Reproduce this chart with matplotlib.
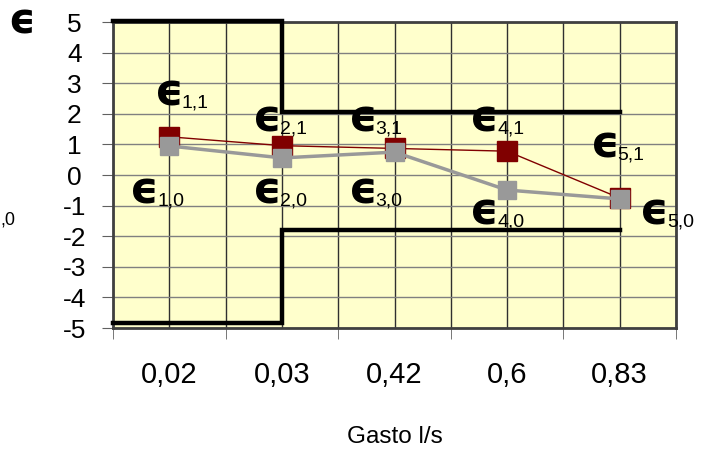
import numpy as np
import matplotlib
matplotlib.use('Agg')
import matplotlib.pyplot as plt

plt.rcParams['font.family'] = ['Liberation Sans', 'DejaVu Sans']

# Data
categories = ['0,02', '0,03', '0,42', '0,6', '0,83']
eps_1 = [1.25, 0.96, 0.87, 0.78, -0.75]
eps_0 = [0.95, 0.56, 0.75, -0.49, -0.78]

# Limit lines (step shape)
upper_x = [-0.5, 1, 1, 4]
upper_y = [5.05, 5.05, 2.05, 2.05]
lower_x = [-0.5, 1, 1, 4]
lower_y = [-4.85, -4.85, -1.8, -1.8]

# Point labels: (x index, y, subscript)
labels = [
    (0.0, 2.68, '1,1'), (0.87, 1.83, '2,1'), (1.72, 1.83, '3,1'),
    (2.80, 1.83, '4,1'), (3.87, 0.98, '5,1'),
    (-0.22, -0.52, '1,0'), (0.87, -0.52, '2,0'), (1.72, -0.52, '3,0'),
    (2.80, -1.21, '4,0'), (4.31, -1.21, '5,0'),
]

fig = plt.figure(figsize=(7.07, 4.5), dpi=100)
ax = fig.add_axes([0.160, 0.271, 0.796, 0.680])
ax.set_facecolor('#FFFFCC')

x = np.arange(len(categories))
ax.set_xlim(-0.5, len(categories) - 0.5)
ax.set_ylim(-5, 5)

# Ticks and grid
ax.set_xticks(x)
ax.set_xticks(np.arange(-0.5, len(categories), 1.0), minor=True)
ax.set_xticklabels(categories, fontsize=21)
ax.set_yticks(range(-5, 6))
ax.set_yticklabels([str(v) for v in range(-5, 6)], fontsize=19)
for lab in ax.get_yticklabels():
    lab.set_horizontalalignment('center')
ax.grid(axis='x', which='both', color='#303030', lw=1)
ax.grid(axis='y', which='major', color='#808080', lw=1)
ax.set_axisbelow(True)

ax.tick_params(axis='x', which='major', length=0, pad=24)
ax.tick_params(axis='x', which='minor', length=8, color='#606060', direction='out')
ax.tick_params(axis='y', length=8, color='#606060', pad=20)

for s in ax.spines.values():
    s.set_color('#404040')
    s.set_linewidth(2)

# Limits
ax.plot(upper_x, upper_y, color='black', lw=3.2, clip_on=False, zorder=3,
        solid_joinstyle='miter')
ax.plot(lower_x, lower_y, color='black', lw=3.2, clip_on=False, zorder=3,
        solid_joinstyle='miter')

# Series
ax.plot(x, eps_1, color='#800000', lw=1, marker='s', ms=15,
        mec='#800000', mfc='#800000', zorder=4)
ax.plot(x, eps_0, color='#999999', lw=2.5, marker='s', ms=12.5,
        mec='#999999', mfc='#999999', zorder=5)

# Labels
for lx, ly, sub in labels:
    ax.text(lx, ly, '\u03f5', fontsize=32, fontweight='bold',
            family='DejaVu Sans', ha='center', va='center', zorder=6)
    ax.annotate(sub, xy=(lx, ly), xytext=(9, -7), textcoords='offset points',
                fontsize=14, ha='left', va='center', zorder=6)

fig.text(22 / 707, 1 - 22 / 450, '\u03f5', fontsize=30, fontweight='bold',
         family='DejaVu Sans', ha='center', va='center')
fig.text(0.0, 1 - 220 / 450, ',0', fontsize=13, ha='left', va='center')
fig.text(395 / 707, 1 - 437 / 450, 'Gasto l/s', fontsize=17.5, ha='center', va='center')

fig.savefig('out.png', dpi=100)
